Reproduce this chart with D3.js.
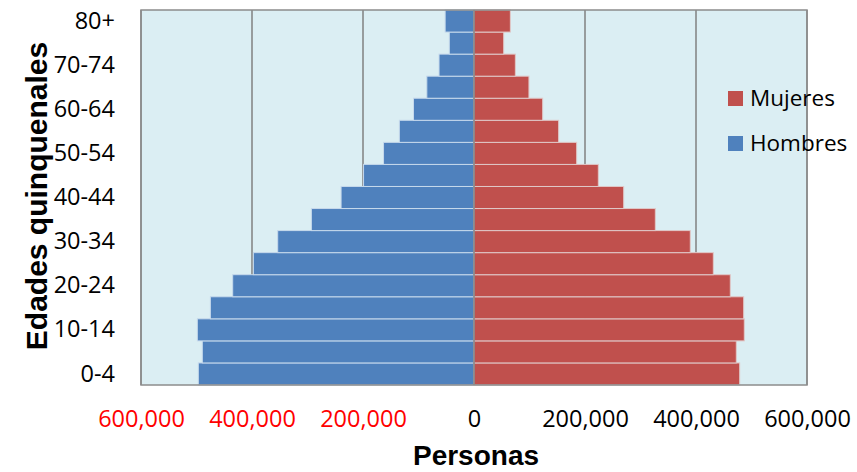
<!DOCTYPE html>
<html>
<head>
<meta charset="utf-8">
<script src="https://cdn.jsdelivr.net/npm/d3@7"></script>
<style>
  html, body { margin: 0; padding: 0; background: #ffffff; }
  svg { display: block; }
</style>
</head>
<body>
<svg id="chart" width="857" height="472"></svg>
<script>
// ---- data ----
const ages = ["0-4","5-9","10-14","15-19","20-24","25-29","30-34","35-39","40-44","45-49","50-54","55-59","60-64","65-69","70-74","75-79","80+"];
const hombres = [496700, 489500, 498500, 475000, 434800, 397500, 353700, 293000, 239500, 199000, 163000, 134500, 109000, 85000, 63000, 44500, 52000];
const mujeres = [478700, 472600, 487000, 485900, 461800, 431200, 389700, 326700, 269700, 224000, 185000, 152500, 123700, 99000, 74500, 53500, 65500];
const xTickValues = [-600000, -400000, -200000, 0, 200000, 400000, 600000];
const xTickLabels = ["600,000", "400,000", "200,000", "0", "200,000", "400,000", "600,000"];
const yTickLabels = ["0-4","10-14","20-24","30-34","40-44","50-54","60-64","70-74","80+"];
const seriesNames = ["Mujeres", "Hombres"];
const xTitle = "Personas";
const yTitle = "Edades quinquenales";

// ---- layout ----
const plot = { left: 141, right: 807, top: 10, bottom: 385 };
const colors = { Hombres: "#4F81BD", Mujeres: "#C0504D" };
const tickFont = "'Open Sans', sans-serif";
const titleFont = "'Liberation Sans', Arial, sans-serif";

const svg = d3.select("#chart");

const x = d3.scaleLinear().domain([-600000, 600000]).range([plot.left, plot.right]);
const y = d3.scaleBand().domain(ages.slice().reverse()).range([plot.top, plot.bottom]).padding(0);

// plot background
svg.append("rect")
  .attr("x", plot.left).attr("y", plot.top)
  .attr("width", plot.right - plot.left).attr("height", plot.bottom - plot.top)
  .attr("fill", "#DBEEF3");

// gridlines
svg.append("g")
  .selectAll("line")
  .data(xTickValues)
  .join("line")
  .attr("x1", d => x(d)).attr("x2", d => x(d))
  .attr("y1", plot.top).attr("y2", plot.bottom)
  .attr("stroke", "#808080").attr("stroke-width", 1.5);

// bars
const rows = ages.map((a, i) => ({ age: a, h: hombres[i], m: mujeres[i] }));
svg.append("g").selectAll("rect")
  .data(rows)
  .join("rect")
  .attr("x", d => x(-d.h))
  .attr("y", d => y(d.age))
  .attr("width", d => x(0) - x(-d.h))
  .attr("height", y.bandwidth())
  .attr("fill", colors.Hombres)
  .attr("stroke", "#C6D9EC").attr("stroke-width", 1);

svg.append("g").selectAll("rect")
  .data(rows)
  .join("rect")
  .attr("x", x(0))
  .attr("y", d => y(d.age))
  .attr("width", d => x(d.m) - x(0))
  .attr("height", y.bandwidth())
  .attr("fill", colors.Mujeres)
  .attr("stroke", "#E0C8C8").attr("stroke-width", 1);

// zero axis line
svg.append("line")
  .attr("x1", x(0)).attr("x2", x(0))
  .attr("y1", plot.top).attr("y2", plot.bottom)
  .attr("stroke", "#808080").attr("stroke-width", 1.5);

// plot border
svg.append("rect")
  .attr("x", plot.left).attr("y", plot.top)
  .attr("width", plot.right - plot.left).attr("height", plot.bottom - plot.top)
  .attr("fill", "none").attr("stroke", "#8C8C8C").attr("stroke-width", 1.5);

// x axis labels
const xAxis = d3.axisBottom(x)
  .tickValues(xTickValues)
  .tickFormat((d, i) => xTickLabels[i])
  .tickSize(0).tickPadding(0);
const gx = svg.append("g")
  .attr("transform", `translate(0, ${plot.bottom})`)
  .call(xAxis);
gx.select(".domain").remove();
gx.selectAll("text")
  .attr("y", 42)
  .attr("dy", null)
  .attr("font-family", tickFont)
  .attr("font-size", "23.5px")
  .attr("fill", d => d < 0 ? "#FF0000" : "#000000");

// y axis labels
const yAxis = d3.axisLeft(y)
  .tickValues(yTickLabels)
  .tickSize(0).tickPadding(26);
const gy = svg.append("g")
  .attr("transform", `translate(${plot.left}, 0)`)
  .call(yAxis);
gy.select(".domain").remove();
gy.selectAll("text")
  .attr("font-family", tickFont)
  .attr("font-size", "23.5px")
  .attr("fill", "#000000");

// axis titles
svg.append("text")
  .attr("x", 476).attr("y", 465)
  .attr("text-anchor", "middle")
  .attr("font-family", titleFont)
  .attr("font-weight", "bold")
  .attr("font-size", "28px")
  .attr("fill", "#000")
  .text(xTitle);

svg.append("text")
  .attr("transform", "translate(47, 196) rotate(-90)")
  .attr("text-anchor", "middle")
  .attr("font-family", titleFont)
  .attr("font-weight", "bold")
  .attr("font-size", "30px")
  .attr("fill", "#000")
  .text(yTitle);

// legend
const legend = svg.append("g").attr("transform", "translate(728, 91)");
const li = legend.selectAll("g")
  .data(seriesNames)
  .join("g")
  .attr("transform", (d, i) => `translate(0, ${i * 45})`);
li.append("rect")
  .attr("width", 15).attr("height", 15)
  .attr("fill", d => colors[d]);
li.append("text")
  .attr("x", 22).attr("y", 15)
  .attr("font-family", tickFont)
  .attr("font-size", "22.5px")
  .attr("fill", "#000")
  .text(d => d);
</script>
</body>
</html>
